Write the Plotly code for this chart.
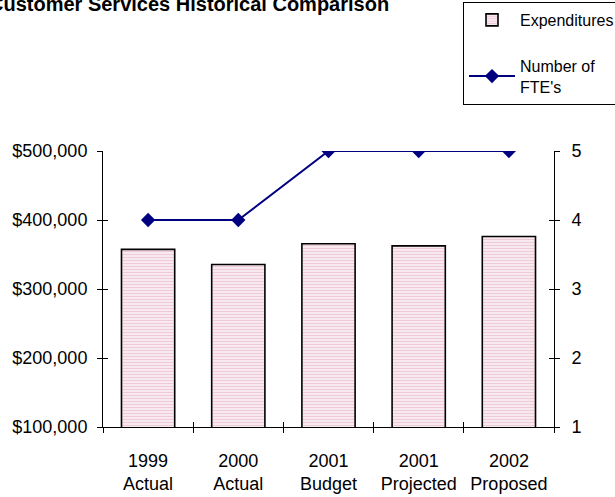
import plotly.graph_objects as go

categories = ["1999<br>Actual", "2000<br>Actual", "2001<br>Budget", "2001<br>Projected", "2002<br>Proposed"]
expenditures = [357500, 335500, 365500, 362500, 376000]
fte = [4, 4, 5, 5, 5]
title_text = "Customer Services Historical Comparison"

FONT = "Liberation Sans, Arial, sans-serif"
PINK = "#e3a8c0"
NAVY = "#000080"

fig = go.Figure()
fig.add_trace(go.Bar(
    x=categories, y=expenditures, name="Expenditures",
    marker=dict(color="white", line=dict(color="black", width=1.6),
                pattern=dict(shape="-", fgcolor=PINK, bgcolor="#faedf3", size=3, solidity=0.45)),
    legendgroup="a",
))
fig.add_trace(go.Scatter(
    x=categories, y=fte, name="Number of<br>FTE's", yaxis="y2",
    mode="lines+markers", line=dict(color=NAVY, width=2),
    marker=dict(symbol="diamond", size=11, color=NAVY),
    legendgroup="b",
))
# helper traces for inner (cross) tick marks
fig.add_trace(go.Scatter(x=[0], y=[1], xaxis="x3", yaxis="y3", mode="markers",
                         marker=dict(opacity=0), showlegend=False, hoverinfo="skip"))
fig.add_trace(go.Scatter(x=[0], y=[1], xaxis="x3", yaxis="y4", mode="markers",
                         marker=dict(opacity=0), showlegend=False, hoverinfo="skip"))

W, H = 615, 497
ml, mr, mt, mb = 103, 61, 151, 70
pw = W - ml - mr
ph = H - mt - mb

def px_x(p):
    return (p - ml) / pw

def px_y(p):
    return (H - mb - p) / ph

fig.update_layout(
    width=W, height=H,
    margin=dict(l=ml, r=mr, t=mt, b=mb, pad=0, autoexpand=False),
    paper_bgcolor="white", plot_bgcolor="white",
    font=dict(family=FONT, size=18, color="black"),
    bargap=0.41,
    showlegend=True,
    legend=dict(
        x=px_x(463), y=px_y(2), xanchor="left", yanchor="top",
        bordercolor="black", borderwidth=1, bgcolor="white",
        font=dict(family=FONT, size=16, color="black"),
        traceorder="grouped", tracegroupgap=22, itemwidth=46,
    ),
    xaxis=dict(
        type="category", showline=True, linecolor="black", linewidth=1,
        ticks="outside", ticklen=5, tickcolor="black", tickson="boundaries",
        showgrid=False, zeroline=False, ticklabelstandoff=17,
        tickangle=0, automargin=False,
        tickfont=dict(size=18),
    ),
    yaxis=dict(
        range=[100000, 500000], dtick=100000, tickformat="$,.0f",
        showline=True, linecolor="black", linewidth=1,
        ticks="outside", ticklen=5, tickcolor="black",
        showgrid=False, zeroline=False, ticklabelstandoff=6, automargin=False,
        tickfont=dict(size=18),
    ),
    yaxis2=dict(
        range=[1, 5], dtick=1, overlaying="y", side="right",
        showline=True, linecolor="black", linewidth=1,
        ticks="outside", ticklen=5, tickcolor="black",
        showgrid=False, zeroline=False, ticklabelstandoff=8, automargin=False,
        tickfont=dict(size=18),
    ),
    xaxis3=dict(
        overlaying="x", anchor="y3", range=[-0.5, 4.5],
        tickvals=[-0.5, 0.5, 1.5, 2.5, 3.5, 4.5], ticks="inside", ticklen=5,
        tickcolor="black", showticklabels=False, showgrid=False,
        zeroline=False, showline=False, automargin=False,
    ),
    yaxis3=dict(
        overlaying="y", anchor="x3", side="left", range=[1, 5], dtick=1,
        ticks="inside", ticklen=5, tickcolor="black", showticklabels=False,
        showgrid=False, zeroline=False, showline=False, automargin=False,
    ),
    yaxis4=dict(
        overlaying="y", anchor="x3", side="right", range=[1, 5], dtick=1,
        ticks="inside", ticklen=5, tickcolor="black", showticklabels=False,
        showgrid=False, zeroline=False, showline=False, automargin=False,
    ),
    annotations=[dict(
        text="<b>" + title_text + "</b>", xref="paper", yref="paper",
        x=px_x(391), y=px_y(17), xanchor="right", yanchor="bottom",
        showarrow=False, font=dict(family=FONT, size=20, color="black"),
    )],
)

fig.write_html("out.html")
